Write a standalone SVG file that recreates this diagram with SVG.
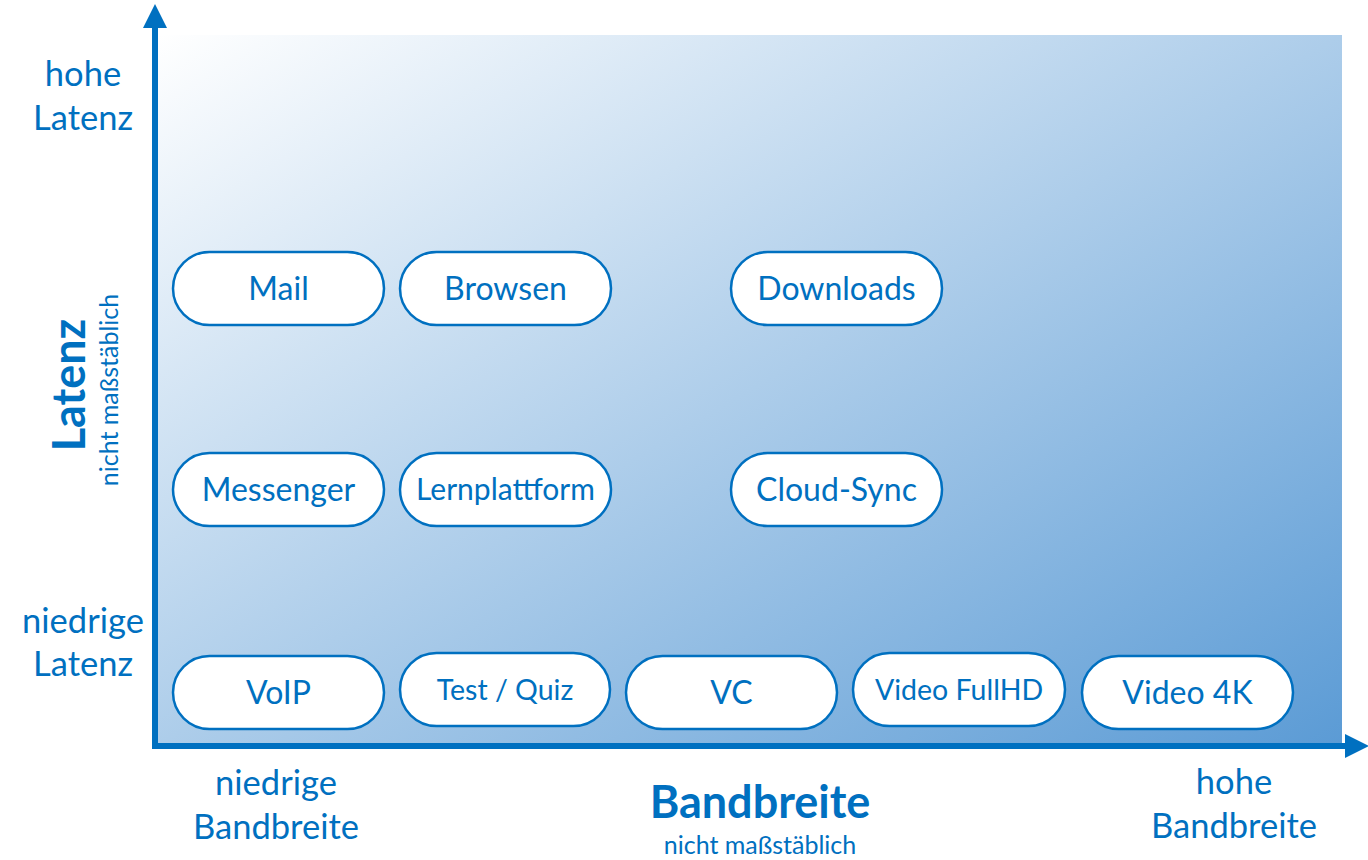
<svg xmlns="http://www.w3.org/2000/svg" width="1368" height="860" viewBox="0 0 1368 860">
  <defs>
    <linearGradient id="bg" x1="0" y1="0" x2="1" y2="1">
      <stop offset="0" stop-color="#ffffff"/>
      <stop offset="1" stop-color="#5b9bd5"/>
    </linearGradient>
    <marker id="arrow" viewBox="0 0 10 10" refX="0" refY="5" markerWidth="4" markerHeight="4" orient="auto" markerUnits="strokeWidth">
      <path d="M0,0 L10,5 L0,10 Z" fill="#0070c0"/>
    </marker>
  </defs>
  <style>
    text { font-family: Lato, "Liberation Sans", sans-serif; fill: #0070c0; }
    .lbl { font-size: 32px; text-anchor: middle; }
    .sm { font-size: 28.5px; }
    .lp { font-size: 30px; }
    .axis { font-size: 34.5px; text-anchor: middle; }
    .title { font-size: 45px; font-weight: bold; text-anchor: middle; }
    .note { font-size: 25px; text-anchor: middle; }
    .pill { fill: #ffffff; stroke: #0070c0; stroke-width: 2.5; }
    .ax { stroke: #0070c0; stroke-width: 6; fill: none; }
  </style>

  <!-- plot area -->
  <rect x="158" y="35" width="1184" height="710" fill="url(#bg)"/>

  <!-- axes -->
  <g id="connectors">
    <line class="ax" x1="155" y1="749" x2="155" y2="28" marker-end="url(#arrow)"/>
    <line class="ax" x1="152" y1="746" x2="1345" y2="746" marker-end="url(#arrow)"/>
  </g>

  <!-- axis labels -->
  <g id="y-axis-labels">
    <text class="axis" x="83" y="86">hohe</text>
    <text class="axis" x="83" y="130">Latenz</text>
    <text class="axis" x="83" y="633">niedrige</text>
    <text class="axis" x="83" y="676">Latenz</text>
    <text class="title" transform="translate(85,385) rotate(-90)">Latenz</text>
    <text class="note" transform="translate(118,390) rotate(-90)">nicht maßstäblich</text>
  </g>
  <g id="x-axis-labels">
    <text class="axis" x="276" y="795">niedrige</text>
    <text class="axis" x="276" y="839">Bandbreite</text>
    <text class="axis" x="1234" y="794">hohe</text>
    <text class="axis" x="1234" y="838">Bandbreite</text>
    <text class="title" x="760" y="818">Bandbreite</text>
    <text class="note" x="760" y="854">nicht maßstäblich</text>
  </g>

  <!-- applications -->
  <g id="mail">
    <rect class="pill" x="173" y="252" width="211" height="73" rx="36.5"/>
    <text class="lbl" x="278.5" y="300">Mail</text>
  </g>
  <g id="browsen">
    <rect class="pill" x="400" y="252" width="211" height="73" rx="36.5"/>
    <text class="lbl" x="505.5" y="300">Browsen</text>
  </g>
  <g id="downloads">
    <rect class="pill" x="731" y="252" width="211" height="73" rx="36.5"/>
    <text class="lbl" x="836.5" y="300">Downloads</text>
  </g>
  <g id="messenger">
    <rect class="pill" x="173" y="453" width="211" height="73" rx="36.5"/>
    <text class="lbl" x="278.5" y="501">Messenger</text>
  </g>
  <g id="lernplattform">
    <rect class="pill" x="400" y="453" width="211" height="73" rx="36.5"/>
    <text class="lbl lp" x="505.5" y="500">Lernplattform</text>
  </g>
  <g id="cloud-sync">
    <rect class="pill" x="731" y="453" width="211" height="73" rx="36.5"/>
    <text class="lbl" x="836.5" y="501">Cloud-Sync</text>
  </g>
  <g id="voip">
    <rect class="pill" x="173" y="656" width="211" height="73" rx="36.5"/>
    <text class="lbl" x="278.5" y="704">VoIP</text>
  </g>
  <g id="test-quiz">
    <rect class="pill" x="400" y="653" width="210" height="73" rx="36.5"/>
    <text class="lbl sm" x="505" y="700">Test / Quiz</text>
  </g>
  <g id="vc">
    <rect class="pill" x="626" y="656" width="211" height="73" rx="36.5"/>
    <text class="lbl" x="731.5" y="704">VC</text>
  </g>
  <g id="video-fullhd">
    <rect class="pill" x="853" y="653" width="212" height="73" rx="36.5"/>
    <text class="lbl sm" x="959" y="700">Video FullHD</text>
  </g>
  <g id="video-4k">
    <rect class="pill" x="1082" y="656" width="211" height="73" rx="36.5"/>
    <text class="lbl" x="1187.5" y="704">Video 4K</text>
  </g>
</svg>
